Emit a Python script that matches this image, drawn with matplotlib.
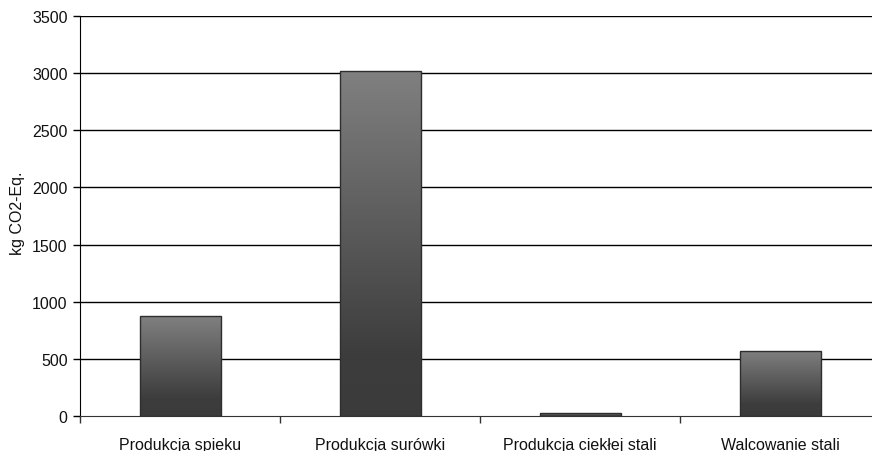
import numpy as np
import matplotlib
matplotlib.use("Agg")
import matplotlib.pyplot as plt
from matplotlib.colors import LinearSegmentedColormap

plt.rcParams['font.family'] = ['Liberation Sans', 'DejaVu Sans']

categories = ["Produkcja spieku", "Produkcja surówki", "Produkcja ciekłej stali", "Walcowanie stali"]
values = [875, 3015, 25, 570]
yticks = [0, 500, 1000, 1500, 2000, 2500, 3000, 3500]

fig = plt.figure(figsize=(8.72, 4.52), dpi=100)
# plot area runs slightly past the right edge of the canvas
ax = fig.add_axes([80 / 872, (452 - 417) / 452, 800 / 872, 400 / 452])

x = np.arange(len(categories))

for yv in yticks[1:]:
    ax.axhline(yv, color='black', lw=1.0, zorder=1)

cmap = LinearSegmentedColormap.from_list(
    "bar", [(0.0, "#3b3b3b"), (0.18, "#3d3d3d"), (1.0, "#808080")])
grad = np.linspace(0, 1, 256).reshape(-1, 1)

bars = ax.bar(x, values, width=0.405, facecolor='none', edgecolor='#2e2e2e', lw=1.0, zorder=3)
for b in bars:
    bx, by = b.get_x(), b.get_y()
    w, h = b.get_width(), b.get_height()
    im = ax.imshow(grad, cmap=cmap, aspect='auto', origin='lower',
                   extent=[bx, bx + w, by, by + h], zorder=2, interpolation='bilinear')
    im.set_clip_path(b)
ax.set_xlim(-0.5, len(categories) - 0.5)
ax.set_ylim(0, 3500)

ax.set_yticks(yticks)
ax.set_yticklabels([str(v) for v in yticks], fontsize=11.5, color='#111111')
ax.set_xticks(np.arange(len(categories) + 1) - 0.5, minor=False)
ax.set_xticklabels([])
ax.set_xticks(x, minor=True)
ax.set_xticklabels(categories, minor=True, fontsize=11.5, color='#111111')
ax.tick_params(axis='x', which='minor', length=0, pad=15)
ax.tick_params(axis='x', which='major', length=5, width=1, color='#333333', direction='out')
ax.tick_params(axis='y', length=5, width=1, color='black', direction='out', pad=4)

ax.set_ylabel("kg CO2-Eq.", fontsize=11.5, color='#111111')
ax.yaxis.set_label_coords(-(80 - 25) / 800, 0.51)

for s in ['top', 'right']:
    ax.spines[s].set_visible(False)
ax.spines['left'].set_color('black')
ax.spines['bottom'].set_color('#333333')

fig.savefig("out.png", dpi=100)
